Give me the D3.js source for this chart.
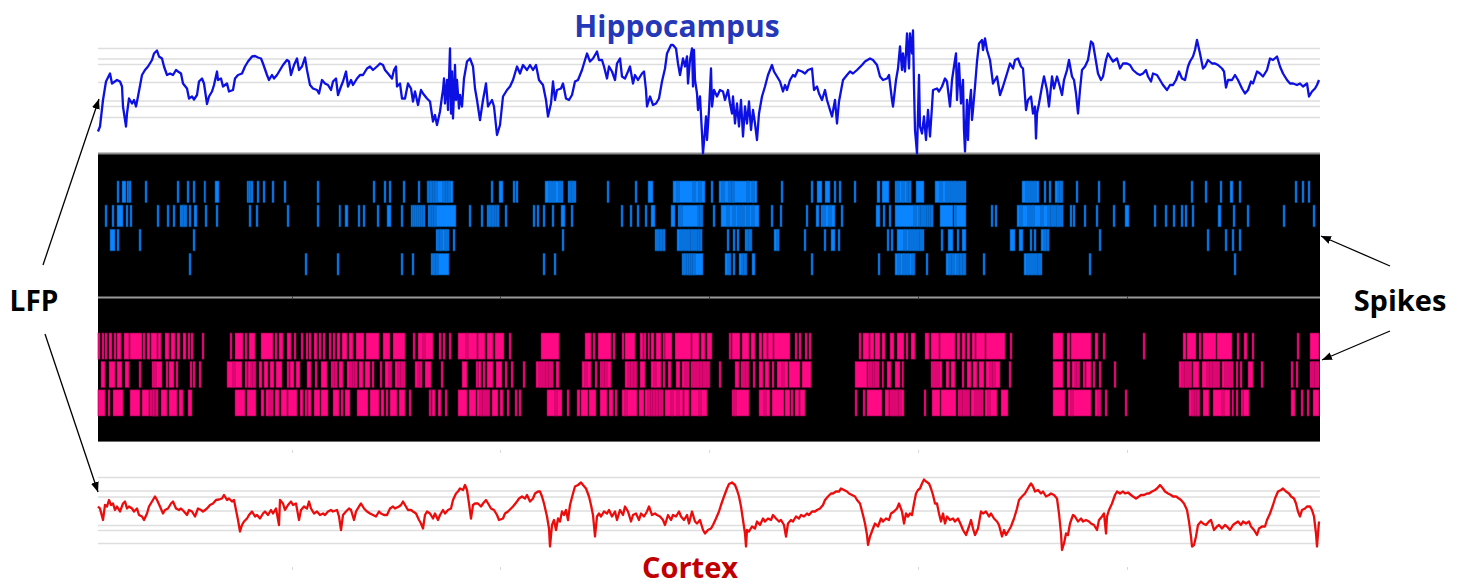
<!DOCTYPE html>
<html>
<head>
<meta charset="utf-8">
<script src="https://cdn.jsdelivr.net/npm/d3@7"></script>
<style>
  body { margin: 0; background: #fff; }
  text { font-family: "Open Sans", "Liberation Sans", sans-serif; font-weight: 700; }
</style>
</head>
<body>
<div id="graphic-area"></div>
<script>
// LFP traces: [time (s), value (uV)]
const hippoLfp = [[0.00,-810],[0.02,-710],[0.05,-180],[0.08,190],[0.12,350],[0.14,150],[0.19,220],[0.22,190],[0.24,90],[0.25,-310],[0.28,-710],[0.29,-450],[0.31,-150],[0.34,-250],[0.36,-180],[0.38,-310],[0.40,-110],[0.44,320],[0.47,420],[0.50,490],[0.54,620],[0.56,750],[0.59,810],[0.61,690],[0.64,650],[0.66,490],[0.69,320],[0.72,350],[0.75,320],[0.78,420],[0.80,390],[0.83,350],[0.85,150],[0.89,50],[0.91,-150],[0.94,-110],[0.96,-170],[0.99,-80],[1.01,190],[1.04,250],[1.06,150],[1.09,-260],[1.11,-110],[1.14,-10],[1.16,120],[1.19,390],[1.20,220],[1.23,250],[1.25,90],[1.29,150],[1.31,-10],[1.35,20],[1.37,250],[1.40,320],[1.44,350],[1.47,490],[1.50,590],[1.54,690],[1.57,700],[1.60,670],[1.63,650],[1.65,550],[1.69,320],[1.71,220],[1.74,320],[1.76,250],[1.79,320],[1.82,420],[1.85,520],[1.89,620],[1.91,590],[1.93,320],[1.96,520],[1.99,650],[2.01,420],[2.04,490],[2.07,670],[2.09,420],[2.12,120],[2.15,50],[2.19,20],[2.21,-50],[2.24,220],[2.27,150],[2.30,120],[2.33,20],[2.35,190],[2.38,250],[2.40,-80],[2.43,90],[2.45,190],[2.48,390],[2.50,90],[2.53,220],[2.55,120],[2.59,250],[2.62,320],[2.65,320],[2.69,450],[2.72,490],[2.75,420],[2.79,490],[2.82,550],[2.85,520],[2.87,420],[2.90,350],[2.94,250],[2.96,420],[2.98,490],[2.99,90],[3.02,150],[3.04,-150],[3.07,-150],[3.10,150],[3.13,50],[3.15,-210],[3.17,-10],[3.20,-280],[3.23,20],[3.25,-50],[3.29,-150],[3.32,-210],[3.35,-610],[3.37,-480],[3.39,-680],[3.42,-410],[3.44,-110],[3.45,20],[3.46,250],[3.47,-250],[3.49,220],[3.50,-380],[3.52,850],[3.53,-450],[3.54,390],[3.55,-550],[3.57,520],[3.58,-180],[3.59,220],[3.61,-350],[3.62,-80],[3.64,-310],[3.66,250],[3.69,590],[3.72,650],[3.75,490],[3.77,50],[3.79,-180],[3.82,-580],[3.85,-180],[3.88,150],[3.90,-310],[3.94,-180],[3.96,-310],[3.99,-880],[4.02,-680],[4.05,-110],[4.09,20],[4.12,90],[4.15,220],[4.19,490],[4.22,350],[4.25,520],[4.29,420],[4.32,520],[4.35,420],[4.38,520],[4.41,220],[4.45,120],[4.48,-180],[4.50,-510],[4.53,-250],[4.55,190],[4.57,-180],[4.59,20],[4.63,50],[4.65,150],[4.68,-150],[4.71,-180],[4.74,-80],[4.77,190],[4.80,220],[4.84,420],[4.87,620],[4.89,750],[4.92,590],[4.95,650],[4.99,790],[5.01,620],[5.04,620],[5.06,490],[5.09,250],[5.11,490],[5.14,390],[5.17,220],[5.19,550],[5.22,650],[5.24,290],[5.27,250],[5.30,390],[5.32,490],[5.35,150],[5.37,320],[5.40,220],[5.44,350],[5.46,390],[5.48,20],[5.49,-310],[5.52,-110],[5.55,-280],[5.58,-250],[5.61,-150],[5.64,190],[5.67,450],[5.69,750],[5.73,920],[5.75,920],[5.78,850],[5.80,550],[5.82,320],[5.85,650],[5.87,490],[5.89,690],[5.90,150],[5.92,620],[5.94,850],[5.95,90],[5.96,820],[5.97,220],[5.99,-50],[6.00,-380],[6.02,-110],[6.04,-850],[6.05,-1250],[6.07,-780],[6.08,-510],[6.09,-980],[6.11,-380],[6.13,450],[6.14,-310],[6.16,20],[6.19,-110],[6.22,20],[6.25,-10],[6.27,-180],[6.30,20],[6.32,-250],[6.34,-450],[6.35,-110],[6.37,-650],[6.39,-250],[6.41,-710],[6.43,-180],[6.45,-910],[6.47,-310],[6.49,-650],[6.51,-210],[6.53,-780],[6.55,-380],[6.57,-650],[6.59,-980],[6.61,-450],[6.64,-110],[6.67,90],[6.70,320],[6.74,520],[6.76,390],[6.79,290],[6.82,190],[6.85,-10],[6.87,120],[6.89,20],[6.92,220],[6.95,320],[6.97,290],[7.00,420],[7.04,390],[7.07,350],[7.10,420],[7.14,450],[7.16,20],[7.19,90],[7.21,-50],[7.24,-180],[7.27,20],[7.29,-180],[7.32,-380],[7.34,-510],[7.37,-180],[7.39,-650],[7.41,-210],[7.45,220],[7.49,320],[7.52,390],[7.55,350],[7.59,420],[7.64,520],[7.67,590],[7.72,650],[7.75,620],[7.79,520],[7.82,290],[7.85,220],[7.89,250],[7.91,320],[7.94,-180],[7.95,-310],[7.98,220],[8.00,450],[8.02,890],[8.04,420],[8.05,750],[8.07,390],[8.09,1150],[8.11,450],[8.12,1150],[8.14,750],[8.15,1210],[8.16,90],[8.17,-780],[8.19,-1250],[8.21,320],[8.22,-710],[8.24,-850],[8.26,-510],[8.28,-980],[8.30,-380],[8.32,-910],[8.34,-310],[8.35,20],[8.39,50],[8.41,-10],[8.44,90],[8.47,250],[8.49,190],[8.52,-310],[8.54,220],[8.56,490],[8.58,750],[8.59,-180],[8.61,550],[8.63,-250],[8.65,220],[8.66,-780],[8.67,-1210],[8.69,-180],[8.70,-980],[8.71,-380],[8.73,20],[8.74,-580],[8.75,-380],[8.77,90],[8.79,590],[8.81,950],[8.84,1020],[8.85,820],[8.87,1050],[8.89,820],[8.92,620],[8.95,150],[8.97,220],[8.99,290],[9.02,-80],[9.05,90],[9.09,350],[9.12,550],[9.15,450],[9.17,620],[9.20,650],[9.23,490],[9.25,450],[9.28,-380],[9.30,-180],[9.33,-110],[9.35,-450],[9.37,-310],[9.38,-950],[9.39,-450],[9.41,-250],[9.44,90],[9.46,290],[9.49,20],[9.51,-310],[9.54,290],[9.56,50],[9.59,290],[9.61,150],[9.64,-80],[9.66,220],[9.69,420],[9.71,620],[9.74,290],[9.76,220],[9.78,-50],[9.80,-450],[9.82,20],[9.84,420],[9.87,490],[9.90,620],[9.93,990],[9.95,950],[9.98,590],[10.00,350],[10.03,220],[10.05,290],[10.08,620],[10.10,750],[10.13,650],[10.15,590],[10.19,650],[10.22,450],[10.25,550],[10.29,550],[10.32,520],[10.35,420],[10.39,350],[10.42,320],[10.45,350],[10.48,420],[10.50,290],[10.53,190],[10.55,350],[10.59,320],[10.62,220],[10.65,120],[10.69,20],[10.72,120],[10.75,120],[10.78,220],[10.81,390],[10.84,250],[10.87,220],[10.90,490],[10.92,590],[10.95,690],[10.97,820],[10.99,1020],[11.02,750],[11.05,450],[11.07,490],[11.10,620],[11.14,550],[11.17,550],[11.20,520],[11.24,450],[11.26,390],[11.28,70],[11.30,220],[11.34,220],[11.37,320],[11.40,220],[11.44,50],[11.47,-50],[11.50,20],[11.53,190],[11.55,150],[11.59,390],[11.62,350],[11.65,290],[11.69,420],[11.72,650],[11.75,620],[11.79,690],[11.82,490],[11.85,350],[11.89,220],[11.92,150],[11.95,150],[11.99,120],[12.02,150],[12.05,90],[12.09,150],[12.11,-110],[12.14,-10],[12.17,50],[12.19,120],[12.21,220]];

const cortexLfp = [[0.00,170],[0.02,130],[0.05,-100],[0.07,200],[0.09,170],[0.11,300],[0.13,200],[0.15,230],[0.17,100],[0.19,170],[0.22,70],[0.25,230],[0.27,270],[0.29,130],[0.31,170],[0.34,130],[0.36,70],[0.39,130],[0.41,0],[0.44,-30],[0.46,-100],[0.49,30],[0.51,170],[0.54,270],[0.57,370],[0.59,300],[0.62,170],[0.65,30],[0.67,100],[0.70,130],[0.73,230],[0.75,270],[0.78,130],[0.81,100],[0.83,130],[0.86,70],[0.89,0],[0.91,100],[0.94,70],[0.97,-30],[1.00,130],[1.03,100],[1.05,70],[1.09,130],[1.12,200],[1.15,230],[1.18,300],[1.21,310],[1.24,330],[1.26,400],[1.29,300],[1.31,330],[1.34,270],[1.36,300],[1.38,100],[1.40,-100],[1.42,-330],[1.44,-200],[1.46,-130],[1.49,-70],[1.51,0],[1.54,70],[1.57,-30],[1.59,0],[1.62,-70],[1.65,30],[1.67,70],[1.70,0],[1.73,100],[1.75,30],[1.78,130],[1.81,-200],[1.82,300],[1.85,230],[1.87,100],[1.90,200],[1.93,270],[1.95,200],[1.98,230],[2.01,-100],[2.03,100],[2.06,170],[2.09,130],[2.11,270],[2.13,130],[2.16,30],[2.19,70],[2.22,0],[2.25,30],[2.27,0],[2.30,70],[2.33,100],[2.35,70],[2.39,100],[2.41,-30],[2.43,-300],[2.45,0],[2.48,70],[2.51,130],[2.53,100],[2.56,-100],[2.58,70],[2.61,170],[2.63,230],[2.66,130],[2.69,70],[2.72,30],[2.75,0],[2.78,-30],[2.81,70],[2.83,30],[2.86,0],[2.89,0],[2.92,130],[2.95,170],[2.97,130],[3.01,170],[3.03,200],[3.05,270],[3.07,200],[3.10,100],[3.13,100],[3.15,70],[3.18,30],[3.21,-100],[3.23,-170],[3.25,-270],[3.27,0],[3.29,70],[3.32,30],[3.35,-70],[3.37,30],[3.40,-100],[3.42,0],[3.45,100],[3.47,30],[3.50,100],[3.53,130],[3.55,300],[3.58,430],[3.60,470],[3.62,530],[3.65,500],[3.67,600],[3.69,500],[3.71,230],[3.73,-70],[3.75,200],[3.77,230],[3.80,230],[3.83,170],[3.85,230],[3.88,300],[3.91,200],[3.93,130],[3.96,100],[3.99,0],[4.01,-100],[4.05,-70],[4.07,30],[4.10,70],[4.13,130],[4.15,170],[4.19,270],[4.21,330],[4.24,370],[4.27,330],[4.29,400],[4.32,270],[4.35,330],[4.37,430],[4.40,470],[4.42,470],[4.44,370],[4.46,230],[4.49,-30],[4.51,-270],[4.52,-630],[4.54,-200],[4.56,-100],[4.58,-300],[4.60,-70],[4.62,-130],[4.64,70],[4.66,0],[4.68,100],[4.70,-100],[4.72,200],[4.75,430],[4.77,570],[4.80,600],[4.83,650],[4.85,600],[4.88,530],[4.91,370],[4.93,200],[4.95,0],[4.97,-430],[4.99,-30],[5.01,30],[5.03,-30],[5.06,70],[5.09,30],[5.11,100],[5.14,-30],[5.17,70],[5.19,-100],[5.22,100],[5.25,0],[5.27,170],[5.30,70],[5.33,-130],[5.35,0],[5.38,30],[5.41,-100],[5.43,30],[5.46,-30],[5.49,70],[5.51,170],[5.54,0],[5.57,30],[5.59,0],[5.62,-30],[5.65,-100],[5.67,-200],[5.70,0],[5.73,-100],[5.75,0],[5.78,-30],[5.81,70],[5.83,-30],[5.86,-100],[5.89,0],[5.91,-170],[5.94,70],[5.97,-130],[5.99,-170],[6.02,-100],[6.05,-300],[6.07,-370],[6.10,-300],[6.13,-270],[6.15,-200],[6.18,-70],[6.21,70],[6.23,200],[6.26,370],[6.29,530],[6.31,620],[6.34,650],[6.37,600],[6.39,500],[6.41,370],[6.43,170],[6.45,-100],[6.47,-370],[6.48,-630],[6.49,-300],[6.51,-330],[6.54,-230],[6.57,-270],[6.59,-130],[6.62,-200],[6.65,-70],[6.67,-130],[6.70,-70],[6.73,-100],[6.75,0],[6.78,-70],[6.81,-130],[6.83,-100],[6.86,-200],[6.88,-430],[6.90,-170],[6.93,-100],[6.95,-130],[6.98,-30],[7.01,-70],[7.03,0],[7.06,-30],[7.09,30],[7.11,0],[7.14,70],[7.17,70],[7.19,100],[7.22,130],[7.25,200],[7.27,300],[7.30,370],[7.33,430],[7.35,430],[7.38,470],[7.41,470],[7.43,530],[7.46,500],[7.49,470],[7.51,430],[7.54,400],[7.57,370],[7.59,300],[7.62,230],[7.65,0],[7.67,-170],[7.69,-400],[7.70,-600],[7.72,-430],[7.75,-270],[7.77,-170],[7.80,-230],[7.83,-70],[7.85,-130],[7.88,-70],[7.91,-100],[7.93,30],[7.96,70],[7.99,130],[8.01,230],[8.04,70],[8.06,-170],[8.08,30],[8.10,-30],[8.12,30],[8.14,0],[8.16,230],[8.18,430],[8.20,500],[8.22,530],[8.24,630],[8.26,710],[8.28,670],[8.31,630],[8.33,530],[8.35,400],[8.37,230],[8.39,230],[8.41,30],[8.43,-130],[8.45,30],[8.47,-170],[8.49,-30],[8.52,-100],[8.55,-70],[8.57,-130],[8.60,-70],[8.63,-200],[8.65,-300],[8.68,-400],[8.71,-230],[8.73,-100],[8.75,-270],[8.77,-400],[8.80,-270],[8.83,70],[8.85,30],[8.88,70],[8.91,-30],[8.93,30],[8.96,-70],[8.99,-130],[9.01,-200],[9.04,-430],[9.06,-300],[9.08,-400],[9.11,-300],[9.13,-230],[9.16,-70],[9.19,130],[9.21,300],[9.24,370],[9.27,430],[9.29,500],[9.31,570],[9.33,630],[9.35,570],[9.37,470],[9.40,500],[9.43,430],[9.45,470],[9.48,370],[9.51,400],[9.53,430],[9.56,400],[9.59,330],[9.61,30],[9.63,-370],[9.64,-700],[9.66,-570],[9.68,-370],[9.70,-400],[9.72,-170],[9.75,0],[9.77,-30],[9.80,-130],[9.83,-70],[9.85,-130],[9.88,-100],[9.91,-130],[9.93,-170],[9.96,-200],[9.99,-300],[10.01,-100],[10.04,-30],[10.06,30],[10.08,-370],[10.09,-30],[10.11,100],[10.14,230],[10.17,400],[10.19,470],[10.22,430],[10.25,470],[10.27,430],[10.30,450],[10.33,400],[10.35,370],[10.38,330],[10.41,370],[10.43,400],[10.46,400],[10.49,430],[10.51,430],[10.54,470],[10.57,500],[10.59,530],[10.62,600],[10.65,530],[10.67,470],[10.70,430],[10.73,400],[10.75,370],[10.78,370],[10.81,330],[10.83,300],[10.86,230],[10.89,100],[10.91,-130],[10.93,-430],[10.94,-630],[10.96,-600],[10.98,-430],[11.00,-200],[11.03,-130],[11.05,-170],[11.08,-200],[11.11,-130],[11.13,-100],[11.16,-300],[11.19,-230],[11.21,-200],[11.24,-270],[11.27,-200],[11.29,-230],[11.32,-300],[11.35,-200],[11.37,-170],[11.40,-130],[11.43,-200],[11.45,-130],[11.48,-170],[11.51,-130],[11.53,-230],[11.56,-300],[11.59,-400],[11.61,-270],[11.64,-230],[11.67,-230],[11.69,-100],[11.72,30],[11.75,200],[11.77,330],[11.80,470],[11.83,500],[11.85,530],[11.88,470],[11.91,430],[11.93,370],[11.96,330],[11.98,230],[12.00,70],[12.02,-30],[12.04,100],[12.07,130],[12.09,170],[12.12,170],[12.14,100],[12.16,-30],[12.18,-370],[12.19,-630],[12.21,-130]];

// grey reference levels behind each trace (uV)
const hippoGrid = [850, 640, 530, 170, -200, -310, -530];
const cortexGrid = [750, 480, 360, 80, -210, -310, -570];

// spike rasters: a number is one spike (s), a pair is a dense burst [start, end]
const blueRows = [
  [0.19,[0.24,0.28],0.29,0.31,0.47,0.79,[0.89,0.91],0.95,[1.06,1.07],[1.17,1.21],1.49,1.51,1.53,1.59,[1.65,1.67],[1.74,1.76],[1.86,1.88],[2.19,2.21],2.75,2.86,2.91,3.05,3.20,[3.29,3.55],3.30,3.32,3.35,3.37,3.45,3.48,3.50,3.93,[4.01,4.05],4.15,4.18,[4.47,4.65],4.51,4.55,4.61,[4.70,4.78],4.72,4.74,5.09,5.37,[5.50,5.55],[5.75,6.07],5.79,5.95,6.01,6.13,[6.21,6.59],6.24,6.31,6.34,6.49,6.54,6.83,7.13,[7.19,7.24],[7.27,7.32],7.36,7.41,7.56,[7.79,7.82],[7.84,7.91],[7.97,8.13],7.99,8.04,8.09,8.11,[8.18,8.26],[8.37,8.68],8.42,8.48,8.52,8.56,8.60,8.64,[9.24,9.41],9.28,9.32,9.36,9.46,9.51,[9.57,9.65],9.60,9.62,9.78,10.00,10.25,10.93,11.07,11.22,[11.32,11.35],11.41,11.97,12.04,12.10],
  [0.07,0.14,[0.19,0.25],0.28,0.32,0.59,0.69,[0.75,0.77],[0.82,0.89],0.84,0.86,0.91,[0.96,0.99],1.07,1.18,1.51,[1.58,1.60],1.89,2.19,[2.41,2.42],[2.47,2.50],2.60,2.65,2.79,[2.89,2.93],3.03,3.13,3.15,3.17,3.19,3.21,3.23,3.25,[3.30,3.58],3.32,3.34,3.36,3.71,3.83,[3.89,4.01],3.91,3.94,3.97,3.99,4.07,4.35,[4.39,4.41],4.45,4.54,[4.63,4.67],4.73,5.23,5.32,5.39,5.47,[5.53,5.57],[5.73,5.77],[5.80,6.05],5.82,6.00,6.02,6.15,[6.23,6.61],6.29,6.35,6.40,6.44,6.49,6.54,[6.73,6.75],[6.82,6.84],7.08,[7.18,7.21],[7.23,7.37],7.25,7.31,[7.43,7.45],[7.78,7.82],7.85,7.91,[7.97,8.35],8.16,8.21,8.23,8.27,8.29,8.31,8.33,[8.42,8.55],8.56,[8.57,8.68],8.93,8.97,[9.19,9.65],9.22,9.30,9.34,9.43,9.50,9.53,9.57,9.59,9.63,9.72,9.75,9.86,9.98,10.15,[10.27,10.31],10.56,10.67,10.75,10.83,10.87,10.94,[11.20,11.23],11.35,11.49,11.85,12.15],
  [[0.12,0.17],[0.19,0.21],0.41,0.95,[3.38,3.51],3.40,3.42,3.47,3.55,4.64,[5.57,5.67],5.59,5.62,5.65,[5.79,6.04],5.82,5.86,5.90,5.93,5.97,6.00,6.02,6.29,6.35,6.39,[6.47,6.54],6.49,6.51,[6.76,6.81],6.79,7.06,7.26,[7.33,7.37],7.40,7.89,[7.93,7.95],[7.99,8.26],8.06,8.11,8.15,8.19,8.22,8.43,[8.50,8.55],8.59,[8.64,8.68],[9.12,9.17],[9.21,9.25],9.32,9.36,[9.43,9.51],9.46,9.49,10.01,[11.09,11.11],[11.27,11.29],11.34,11.41],
  [0.91,[2.07,2.09],2.39,3.03,3.14,[3.33,3.51],3.35,3.38,[4.45,4.47],4.56,[5.84,6.05],5.86,5.89,5.91,5.93,5.95,[6.27,6.33],6.30,6.35,[6.41,6.49],6.44,6.46,[6.54,6.57],7.13,7.80,[7.97,8.17],8.00,8.05,8.09,8.14,8.28,[8.48,8.68],8.51,8.54,8.59,8.62,8.65,8.85,[9.26,9.44],9.29,9.33,9.37,9.40,9.91,11.36]
];

const pinkRows = [
  [[0.00,0.02],0.04,0.07,[0.11,0.14],0.16,[0.19,0.23],[0.26,0.31],[0.32,0.44],0.45,[0.49,0.52],[0.53,0.59],[0.60,0.63],[0.67,0.71],[0.73,0.77],[0.79,0.82],[0.85,0.88],0.90,0.93,1.04,[1.32,1.34],[1.37,1.45],1.47,[1.51,1.57],[1.63,1.75],[1.77,1.79],[1.81,1.85],[1.89,1.93],1.96,[2.03,2.05],2.08,[2.11,2.13],[2.16,2.19],2.21,[2.25,2.27],[2.31,2.33],[2.35,2.37],[2.39,2.42],[2.44,2.49],[2.51,2.55],[2.58,2.66],[2.68,2.81],[2.85,2.92],[2.95,3.07],[3.15,3.17],[3.20,3.35],3.25,[3.41,3.43],3.45,3.51,[3.60,3.79],3.68,[3.80,3.87],[3.89,3.95],[3.97,4.06],[4.11,4.13],[4.43,4.61],[4.87,4.93],[4.95,4.97],[5.00,5.13],[5.15,5.17],[5.24,5.26],[5.27,5.37],[5.42,5.45],[5.46,5.48],[5.50,5.51],[5.53,5.56],[5.58,5.63],[5.65,5.67],[5.67,5.74],[5.77,5.93],[5.94,6.01],[6.03,6.07],[6.09,6.14],[6.31,6.33],[6.34,6.42],[6.44,6.51],[6.53,6.57],[6.61,6.64],[6.65,6.69],[6.70,6.75],[6.76,6.92],[6.97,6.99],[7.01,7.03],[7.07,7.09],7.11,[7.61,7.63],[7.65,7.71],[7.72,7.76],[7.77,7.82],[7.84,7.87],[7.92,7.96],[7.99,8.06],8.08,[8.13,8.17],[8.27,8.31],[8.33,8.41],[8.42,8.57],[8.59,8.62],[8.64,8.67],[8.69,8.72],[8.74,8.77],[8.78,8.87],[8.88,9.07],9.12,[9.55,9.65],[9.69,9.72],[9.73,9.93],[9.97,10.00],10.05,10.45,[10.85,10.88],[10.89,10.98],11.01,[11.05,11.18],[11.19,11.34],[11.39,11.41],[11.46,11.49],11.54,11.99,[12.12,12.21]],
  [[0.03,0.07],[0.11,0.17],[0.19,0.24],[0.27,0.31],0.41,[0.54,0.64],0.56,0.68,[0.71,0.76],0.78,0.92,0.95,1.01,[1.29,1.44],1.35,1.47,[1.50,1.58],1.53,1.55,[1.61,1.64],[1.66,1.70],[1.72,1.76],[1.78,1.84],1.89,[1.92,1.96],[1.98,2.02],[2.09,2.13],[2.17,2.19],[2.23,2.29],[2.33,2.39],2.35,2.37,[2.41,2.45],[2.49,2.59],2.52,2.55,2.57,[2.61,2.65],[2.67,2.72],[2.74,2.76],2.82,[2.87,2.94],2.91,[2.97,3.07],3.00,3.03,[3.17,3.24],3.20,3.22,[3.27,3.33],3.43,[3.64,3.69],3.78,[3.80,3.83],3.85,[3.89,3.95],[3.98,4.04],4.07,4.13,4.25,[4.38,4.55],4.41,4.45,4.48,4.51,[4.58,4.61],[4.84,4.93],4.87,[4.97,4.99],[5.02,5.13],5.04,5.07,[5.27,5.39],5.30,5.33,5.36,[5.42,5.47],[5.53,5.63],5.56,[5.65,5.67],[5.70,5.73],[5.78,5.82],[5.84,5.91],5.87,[5.93,6.12],5.95,5.99,6.02,6.05,6.09,6.21,[6.37,6.41],[6.43,6.51],6.45,6.48,6.55,[6.61,6.65],[6.67,6.71],6.74,[6.79,6.90],6.84,[6.91,7.02],[7.04,7.13],[7.57,7.69],[7.70,7.81],7.72,7.75,7.77,[7.84,7.85],[7.89,7.93],[7.97,8.02],[8.04,8.05],[8.33,8.44],8.35,8.39,[8.48,8.51],[8.53,8.57],[8.64,8.66],[8.69,8.73],[8.75,8.79],[8.81,8.86],[8.88,9.02],8.92,8.95,9.11,[9.55,9.65],[9.69,9.72],[9.74,9.82],9.77,9.79,9.85,[9.88,9.93],[9.95,9.97],[10.01,10.03],10.16,[10.81,10.94],10.84,10.87,10.91,[10.95,11.01],[11.04,11.22],11.09,11.12,11.15,11.19,[11.24,11.35],11.27,11.31,11.38,11.42,[11.50,11.55],11.63,[11.93,11.95],11.98,[12.12,12.21],12.14,12.17],
  [[0.00,0.07],0.10,[0.15,0.25],[0.32,0.42],[0.44,0.51],[0.52,0.60],0.54,0.55,0.57,0.58,[0.63,0.69],[0.71,0.79],[0.81,0.85],[0.90,0.94],[1.37,1.47],[1.49,1.58],[1.63,1.66],[1.68,1.75],1.71,[1.77,1.81],[1.83,1.89],[1.90,1.99],[2.02,2.05],[2.07,2.09],[2.10,2.13],[2.16,2.22],[2.23,2.30],[2.35,2.41],[2.43,2.45],[2.47,2.52],[2.59,2.70],[2.72,2.81],[2.83,2.86],[2.88,2.90],[2.92,2.99],[3.01,3.07],[3.11,3.13],3.31,[3.34,3.37],[3.40,3.43],[3.47,3.49],[3.60,3.69],[3.71,3.78],[3.79,3.92],3.82,3.85,3.89,[3.94,4.00],[4.02,4.05],4.09,4.17,4.21,[4.49,4.64],4.57,4.69,[4.79,4.82],[4.83,4.90],[4.91,4.98],[5.02,5.09],[5.11,5.15],[5.17,5.19],[5.24,5.39],5.27,[5.41,5.46],[5.47,5.65],5.50,5.53,5.55,5.58,5.61,[5.67,5.85],5.73,5.79,[5.86,5.91],[5.93,6.09],6.01,[6.34,6.51],6.36,[6.61,6.72],6.66,[6.74,6.86],[6.87,6.92],[6.93,6.95],[6.97,7.01],[7.02,7.07],7.57,[7.65,7.67],[7.69,7.84],[7.87,7.91],[7.92,8.06],7.94,7.98,8.01,8.26,[8.34,8.42],[8.43,8.58],[8.60,8.72],8.62,8.65,8.69,[8.73,8.85],8.77,8.81,[8.87,8.99],8.90,[9.03,9.10],[9.55,9.67],[9.70,9.93],9.73,[9.97,10.03],10.00,10.07,10.27,[10.91,11.02],10.94,10.97,10.99,[11.05,11.11],[11.15,11.32],11.24,[11.34,11.35],[11.38,11.40],11.43,[11.45,11.51],[11.93,11.97],12.03,12.09,[12.15,12.21]]
];

const tickTimes = [1.94, 4.02, 6.11, 8.20, 10.29];

const w = 1463;
const h = 587;

const svg = d3.select("#graphic-area")
              .append("svg")
              .attr("width", w)
              .attr("height", h);

const xScale = d3.scaleLinear().domain([0, 12.22]).range([98, 1320]);
const yHippo = d3.scaleLinear().domain([-1220, 1220]).range([152, 30]);
const yCortex = d3.scaleLinear().domain([-800, 800]).range([555, 475]);
const yBlue = d3.scaleBand().domain(d3.range(4)).range([181, 275]).paddingInner(0.1);
const yPink = d3.scaleBand().domain(d3.range(3)).range([333, 416]).paddingInner(0.08);

// grey reference lines
svg.selectAll(".hgrid").data(hippoGrid).enter().append("line")
   .attr("x1", xScale(0)).attr("x2", xScale(12.22))
   .attr("y1", (d) => yHippo(d)).attr("y2", (d) => yHippo(d))
   .attr("stroke", "#dedede").attr("stroke-width", 1.6);

svg.selectAll(".cgrid").data(cortexGrid).enter().append("line")
   .attr("x1", xScale(0)).attr("x2", xScale(12.22))
   .attr("y1", (d) => yCortex(d)).attr("y2", (d) => yCortex(d))
   .attr("stroke", "#dedede").attr("stroke-width", 1.6);

// raster background
svg.append("rect")
   .attr("x", xScale(0)).attr("y", 153)
   .attr("width", xScale(12.22) - xScale(0)).attr("height", 289)
   .attr("fill", "#000");
svg.append("line")
   .attr("x1", xScale(0)).attr("x2", xScale(12.22)).attr("y1", 153.5).attr("y2", 153.5)
   .attr("stroke", "#8c8c8c").attr("stroke-width", 2);
svg.append("line")
   .attr("x1", xScale(0)).attr("x2", xScale(12.22)).attr("y1", 297.5).attr("y2", 297.5)
   .attr("stroke", "#9a9a9a").attr("stroke-width", 2);
svg.append("line")
   .attr("x1", xScale(0)).attr("x2", xScale(12.22)).attr("y1", 441.5).attr("y2", 441.5)
   .attr("stroke", "#6a6a6a").attr("stroke-width", 1);

const tickAxis = d3.axisBottom(xScale).tickValues(tickTimes).tickSize(3).tickFormat("");
[296, 450, 567].forEach(function(yy, i) {
  const g = svg.append("g").attr("transform", "translate(0," + yy + ")").call(tickAxis);
  g.select(".domain").remove();
  g.selectAll("line").attr("stroke", i === 0 ? "#3a3a3a" : "#d8d8d8");
});

const asSpan = (d) => typeof d === "number" ? [d, d + 0.02] : d;

const drawRows = function(rows, band, fill, edge) {
  rows.forEach(function(row, i) {
    // bursts first, single spikes on top so their edges show inside bursts
    const spans = row.filter((d) => typeof d !== "number").concat(row.filter((d) => typeof d === "number")).map(asSpan);
    svg.append("g").selectAll("rect")
       .data(spans)
       .enter()
       .append("rect")
       .attr("x", (d) => xScale(d[0]))
       .attr("y", band(i))
       .attr("width", (d) => Math.max(xScale(d[1]) - xScale(d[0]), 1.8))
       .attr("height", band.bandwidth())
       .attr("fill", fill)
       .attr("stroke", edge)
       .attr("stroke-width", 0.6);
  });
};

drawRows(blueRows, yBlue, "#0a84ff", "#004a90");
drawRows(pinkRows, yPink, "#ff0a84", "#8a0048");

// LFP traces
const hippoLine = d3.line().x((d) => xScale(d[0])).y((d) => yHippo(d[1]));
const cortexLine = d3.line().x((d) => xScale(d[0])).y((d) => yCortex(d[1]));

svg.append("path")
   .datum(hippoLfp)
   .attr("d", hippoLine)
   .attr("fill", "none")
   .attr("stroke", "#0c10e2")
   .attr("stroke-width", 2.3)
   .attr("stroke-linejoin", "round");

svg.append("path")
   .datum(cortexLfp)
   .attr("d", cortexLine)
   .attr("fill", "none")
   .attr("stroke", "#ec0c0c")
   .attr("stroke-width", 2.3)
   .attr("stroke-linejoin", "round");

// labels
svg.append("text")
   .attr("x", 677).attr("y", 37)
   .attr("text-anchor", "middle")
   .attr("font-size", 30)
   .attr("fill", "#2438b8")
   .text("Hippocampus");

svg.append("text")
   .attr("x", 690).attr("y", 578)
   .attr("text-anchor", "middle")
   .attr("font-size", 29)
   .attr("fill", "#c00000")
   .text("Cortex");

svg.append("text")
   .attr("x", 34).attr("y", 311)
   .attr("text-anchor", "middle")
   .attr("font-size", 28)
   .attr("fill", "#000")
   .text("LFP");

svg.append("text")
   .attr("x", 1400).attr("y", 311)
   .attr("text-anchor", "middle")
   .attr("font-size", 29)
   .attr("fill", "#000")
   .text("Spikes");

// arrows
svg.append("defs").append("marker")
   .attr("id", "head")
   .attr("viewBox", "0 0 10 8")
   .attr("refX", 10).attr("refY", 4)
   .attr("markerWidth", 10).attr("markerHeight", 8)
   .attr("markerUnits", "userSpaceOnUse")
   .attr("orient", "auto")
   .append("path")
   .attr("d", "M0,0 L10,4 L0,8 Z")
   .attr("fill", "#000");

const arrows = [
  [43, 265, 99, 99],
  [45, 334, 98, 492],
  [1390, 266, 1321, 236],
  [1390, 331, 1322, 360]
];

svg.selectAll(".arrow").data(arrows).enter().append("line")
   .attr("x1", (d) => d[0]).attr("y1", (d) => d[1])
   .attr("x2", (d) => d[2]).attr("y2", (d) => d[3])
   .attr("stroke", "#000").attr("stroke-width", 1.3)
   .attr("marker-end", "url(#head)");
</script>
</body>
</html>
